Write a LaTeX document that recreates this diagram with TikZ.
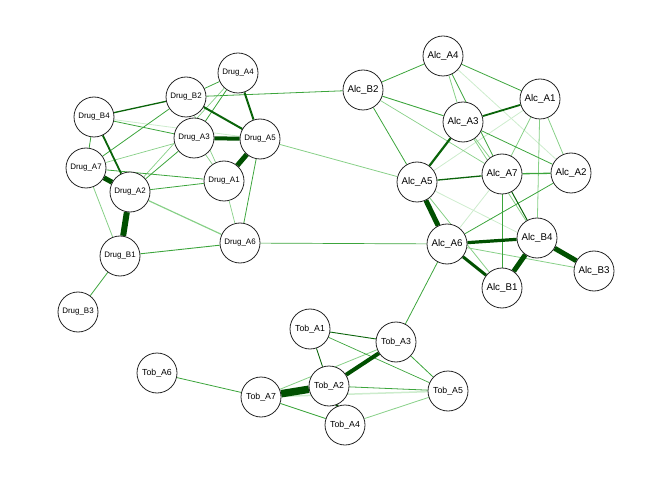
\documentclass[tikz,border=0pt]{standalone}
\usepackage{fontspec}
\setmainfont{Liberation Sans}
\usetikzlibrary{backgrounds}
\definecolor{edA}{RGB}{0,80,0}
\definecolor{edB}{RGB}{10,100,10}
\definecolor{edC}{RGB}{60,165,60}
\definecolor{edD}{RGB}{135,208,135}
\definecolor{edE}{RGB}{205,236,205}
\tikzset{
  var/.style={circle, draw=black!85, line width=0.8bp, fill=white, minimum size=40bp, inner sep=0pt},
  dvar/.style={var, font=\fontsize{8}{8}\selectfont},
  avar/.style={var, font=\fontsize{9.8}{10}\selectfont},
  tvar/.style={var, font=\fontsize{8.8}{9}\selectfont},
  thk/.style={draw=edA, line width=#1bp},
  dk/.style={draw=edB, line width=#1bp},
  md/.style={draw=edC, line width=#1bp},
  lt/.style={draw=edD, line width=#1bp},
  ft/.style={draw=edE, line width=#1bp}
}
\begin{document}
\begin{tikzpicture}[x=1bp,y=-1bp]
\useasboundingbox (0,0) rectangle (672,480);
% drug items
\node[dvar] (dA4) at (238,73) {Drug\_A4};
\node[dvar] (dB2) at (186,97) {Drug\_B2};
\node[dvar] (dB4) at (94,117) {Drug\_B4};
\node[dvar] (dA3) at (194,138) {Drug\_A3};
\node[dvar] (dA5) at (260,139) {Drug\_A5};
\node[dvar] (dA7) at (86,168) {Drug\_A7};
\node[dvar] (dA1) at (224,181) {Drug\_A1};
\node[dvar] (dA2) at (130,192) {Drug\_A2};
\node[dvar] (dB1) at (120,256) {Drug\_B1};
\node[dvar] (dA6) at (240,243) {Drug\_A6};
\node[dvar] (dB3) at (78,312) {Drug\_B3};
% alcohol items
\node[avar] (aA4) at (443,56) {Alc\_A4};
\node[avar] (aB2) at (363,90) {Alc\_B2};
\node[avar] (aA1) at (540,99) {Alc\_A1};
\node[avar] (aA3) at (463,122) {Alc\_A3};
\node[avar] (aA5) at (417,182) {Alc\_A5};
\node[avar] (aA7) at (502,174) {Alc\_A7};
\node[avar] (aA2) at (571,173) {Alc\_A2};
\node[avar] (aA6) at (447,244) {Alc\_A6};
\node[avar] (aB4) at (537,238) {Alc\_B4};
\node[avar] (aB1) at (502,288) {Alc\_B1};
\node[avar] (aB3) at (594,271) {Alc\_B3};
% tobacco items
\node[tvar] (tA1) at (310,329) {Tob\_A1};
\node[tvar] (tA3) at (396,342) {Tob\_A3};
\node[tvar] (tA6) at (157,373) {Tob\_A6};
\node[tvar] (tA2) at (329,386) {Tob\_A2};
\node[tvar] (tA7) at (261,397) {Tob\_A7};
\node[tvar] (tA5) at (448,391) {Tob\_A5};
\node[tvar] (tA4) at (345,425) {Tob\_A4};
\begin{scope}[on background layer]
% faint and light edges
\draw[ft=0.8] (dB4) -- (dA5);
\draw[ft=0.8] (aA4) -- (aA2);
\draw[ft=0.8] (aA1) -- (aA5);
\draw[ft=0.8] (aA6) -- (aA7);
\draw[ft=0.8] (aA5) -- (aB3);
\draw[ft=1.5] (tA7) -- (tA5);
\draw[lt=0.7] (dA4) -- (dA2);
\draw[lt=0.7] (dA7) -- (dA3);
\draw[lt=1.2] (dA2) -- (dA6);
\draw[lt=0.7] (dA3) -- (dA1);
\draw[lt=0.7] (dB2) -- (dA1);
\draw[lt=0.7] (dA1) -- (dA6);
\draw[lt=0.8] (dA5) -- (aA5);
\draw[lt=0.8] (dA7) -- (dB1);
\draw[lt=0.7] (aB2) -- (aA7);
\draw[lt=0.8] (aA4) -- (aA3);
\draw[lt=0.8] (aA3) -- (aA7);
\draw[lt=0.8] (aA3) -- (aB4);
\draw[lt=0.8] (aA1) -- (aA7);
\draw[lt=0.8] (aA1) -- (aA2);
\draw[lt=0.8] (aA1) -- (aB4);
\draw[lt=0.8] (aA6) -- (aB3);
\draw[lt=0.8] (aA5) -- (aB1);
\draw[lt=0.8] (tA3) -- (tA7);
\draw[lt=0.8] (tA4) -- (tA5);
% medium edges
\draw[md=0.8] (dB2) -- (aB2);
\draw[md=0.8] (dB2) -- (dA4);
\draw[md=0.8] (dA4) -- (dA3);
\draw[md=0.8] (dB4) -- (dA3);
\draw[md=0.8] (dB4) -- (dA7);
\draw[md=0.8] (dB2) -- (dA7);
\draw[md=0.8] (dA7) -- (dA1);
\draw[md=0.8] (dA2) -- (dA1);
\draw[md=0.8] (dA3) -- (dA2);
\draw[md=0.8] (dA5) -- (dA6);
\draw[md=0.9] (dB1) -- (dA6);
\draw[md=0.8] (dB1) -- (dB3);
\draw[md=0.7] (dA6) -- (aA6);
\draw[md=0.8] (aB2) -- (aA4);
\draw[md=0.9] (aB2) -- (aA3);
\draw[md=0.8] (aB2) -- (aA5);
\draw[md=0.8] (aA4) -- (aA1);
\draw[md=0.8] (aA4) -- (aA7);
\draw[md=0.8] (aA3) -- (aA2);
\draw[md=1.3] (aA7) -- (aA2);
\draw[md=0.8] (aA7) -- (aB1);
\draw[md=0.8] (aA6) -- (aA2);
\draw[md=0.8] (aA6) -- (tA3);
\draw[md=0.8] (tA6) -- (tA7);
\draw[md=0.7] (tA1) -- (tA5);
\draw[md=0.8] (tA3) -- (tA5);
\draw[md=0.8] (tA2) -- (tA5);
\draw[md=0.8] (tA7) -- (tA4);
% strong edges
\draw[dk=1.3] (dB4) -- (dB2);
\draw[dk=2] (dB2) -- (dA5);
\draw[dk=2] (dA4) -- (dA5);
\draw[dk=1.8] (dB4) -- (dA2);
\draw[dk=1.8] (aA3) -- (aA1);
\draw[dk=2.2] (aA3) -- (aA5);
\draw[dk=1.3] (aA5) -- (aA7);
\draw[dk=1] (aA7) -- (aB4);
\draw[dk=0.9] (tA1) -- (tA2);
\draw[dk=0.9] (tA1) -- (tA3);
\draw[thk=4] (dA3) -- (dA5);
\draw[thk=5] (dA5) -- (dA1);
\draw[thk=5] (dA7) -- (dA2);
\draw[thk=6] (dA2) -- (dB1);
\draw[thk=5] (aA5) -- (aA6);
\draw[thk=3.2] (aA6) -- (aB4);
\draw[thk=3] (aA6) -- (aB1);
\draw[thk=5] (aB4) -- (aB1);
\draw[thk=5] (aB4) -- (aB3);
\draw[thk=7.5] (tA7) -- (tA2);
\draw[thk=4] (tA2) -- (tA3);
\draw[thk=3] (tA2) -- (tA4);
\end{scope}
\end{tikzpicture}
\end{document}
